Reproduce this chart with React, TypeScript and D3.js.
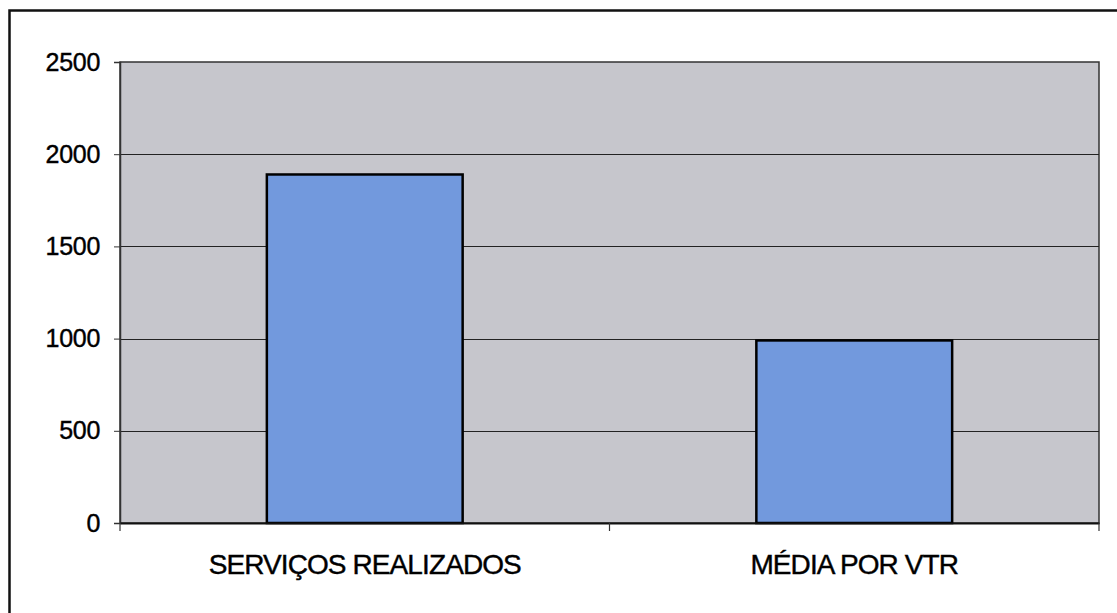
import React, { useEffect, useRef } from 'react';
import * as d3 from 'd3';

const categories = ['SERVIÇOS REALIZADOS', 'MÉDIA POR VTR'];
const values = [1890, 990];
const yTicks = [0, 500, 1000, 1500, 2000, 2500];

const App: React.FC = () => {
  const svgRef = useRef<SVGSVGElement>(null);

  useEffect(() => {
    if (!svgRef.current) return;
    const W = 1117;
    const H = 613;
    const margin = { top: 62, right: 18, bottom: 90, left: 120 };
    const width = W - margin.left - margin.right;
    const height = H - margin.top - margin.bottom;

    const root = d3.select(svgRef.current);
    root.selectAll('*').remove();
    root.attr('width', W).attr('height', H).style('overflow', 'hidden');

    root.append('rect').attr('width', W).attr('height', H).attr('fill', '#ffffff');

    // outer frame (right/bottom edges run off the picture)
    root.append('rect')
      .attr('x', 9.5).attr('y', 10.5)
      .attr('width', W + 20).attr('height', H + 20)
      .attr('fill', 'none').attr('stroke', '#111').attr('stroke-width', 2.5);

    const svg = root.append('g').attr('transform', `translate(${margin.left},${margin.top})`);

    const x = d3.scaleBand().domain(categories).range([0, width]).paddingInner(0.6).paddingOuter(0.3);
    const band = d3.scaleBand().domain(categories).range([0, width]);
    const y = d3.scaleLinear().domain([0, 2500]).range([height, 0]);

    // plot area
    svg.append('rect')
      .attr('width', width).attr('height', height)
      .attr('fill', '#c6c6cc')
      .attr('stroke', '#333').attr('stroke-width', 1.5);

    // gridlines
    svg.append('g')
      .selectAll('line')
      .data(yTicks.slice(1, -1))
      .enter()
      .append('line')
      .attr('x1', 0).attr('x2', width)
      .attr('y1', d => Math.round(y(d)) + 0.5).attr('y2', d => Math.round(y(d)) + 0.5)
      .attr('stroke', '#222').attr('stroke-width', 1);

    // bars
    svg.selectAll('rect.bar')
      .data(values)
      .enter()
      .append('rect')
      .attr('class', 'bar')
      .attr('x', (d, i) => x(categories[i]) || 0)
      .attr('y', d => y(d))
      .attr('width', x.bandwidth())
      .attr('height', d => height - y(d))
      .attr('fill', '#7299dd')
      .attr('stroke', '#000')
      .attr('stroke-width', 2.5);

    // y axis
    const yAxis = svg.append('g')
      .call(d3.axisLeft(y).tickValues(yTicks).tickFormat(d3.format('d')).tickSize(6).tickPadding(14));
    yAxis.select('.domain').attr('stroke', '#333').attr('stroke-width', 1.5);
    yAxis.selectAll('.tick line').attr('stroke', '#333');
    yAxis.selectAll('text')
      .attr('fill', '#000')
      .attr('stroke', '#000').attr('stroke-width', 0.4)
      .style('font-family', 'Liberation Sans, Arial, sans-serif')
      .style('font-size', '25px')
      .style('letter-spacing', '-0.3px');

    // x axis
    const xAxis = svg.append('g')
      .attr('transform', `translate(0,${height})`)
      .call(d3.axisBottom(band).tickSize(0).tickPadding(31));
    xAxis.select('.domain').attr('stroke', '#111').attr('stroke-width', 2);
    xAxis.selectAll('text')
      .attr('fill', '#000')
      .attr('stroke', '#000').attr('stroke-width', 0.4)
      .style('font-family', 'Liberation Sans, Arial, sans-serif')
      .style('font-size', '28px')
      .style('letter-spacing', '-0.9px');

    // category separator ticks
    svg.append('g')
      .selectAll('line')
      .data([0, 1, 2])
      .enter()
      .append('line')
      .attr('x1', d => d * band.step()).attr('x2', d => d * band.step())
      .attr('y1', height).attr('y2', height + 8)
      .attr('stroke', '#333').attr('stroke-width', 1.2);
  }, []);

  return (
    <svg ref={svgRef} style={{ position: 'absolute', left: 0, top: 0, display: 'block' }}></svg>
  );
};

export default App;
